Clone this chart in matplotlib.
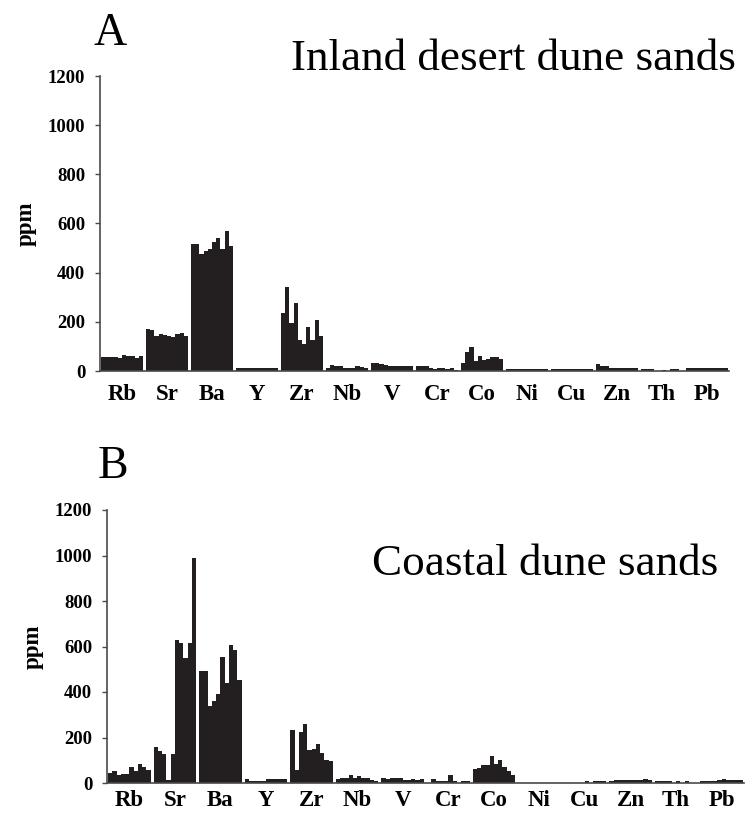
import numpy as np
import matplotlib
matplotlib.use('Agg')
import matplotlib.pyplot as plt

# elementos y muestras (10 muestras por elemento)
elements = ['Rb', 'Sr', 'Ba', 'Y', 'Zr', 'Nb', 'V', 'Cr', 'Co', 'Ni', 'Cu', 'Zn', 'Th', 'Pb']
yticks = [0, 200, 400, 600, 800, 1000, 1200]

# A: dunas de desierto interior (ppm)
inland_Rb = [58, 58, 56, 55, 53, 64, 60, 60, 52, 63]
inland_Sr = [172, 166, 142, 150, 146, 144, 140, 150, 153, 144]
inland_Ba = [518, 516, 475, 488, 496, 524, 541, 498, 568, 510]
inland_Y = [14, 14, 14, 14, 14, 14, 14, 14, 14, 14]
inland_Zr = [236, 342, 196, 277, 126, 108, 177, 126, 207, 142]
inland_Nb = [13, 24, 20, 20, 14, 14, 14, 20, 17, 13]
inland_V = [34, 33, 27, 24, 20, 20, 20, 20, 20, 20]
inland_Cr = [20, 20, 20, 11, 7, 13, 13, 7, 13, 4]
inland_Co = [31, 78, 96, 42, 62, 45, 47, 55, 57, 47]
inland_Ni = [7, 7, 7, 7, 7, 7, 7, 7, 7, 7]
inland_Cu = [7, 7, 7, 7, 7, 7, 7, 7, 7, 7]
inland_Zn = [27, 20, 20, 14, 14, 14, 14, 14, 14, 14]
inland_Th = [7, 7, 7, 0, 0, 5, 0, 7, 7, 0]
inland_Pb = [12, 13, 13, 13, 13, 13, 13, 13, 13, 12]

# B: dunas costeras (ppm)
coastal_Rb = [45, 52, 33, 40, 41, 72, 52, 85, 72, 58]
coastal_Sr = [158, 140, 127, 15, 127, 630, 617, 551, 617, 990]
coastal_Ba = [492, 492, 337, 360, 392, 556, 439, 607, 583, 452]
coastal_Y = [17, 10, 10, 10, 10, 17, 17, 17, 17, 17]
coastal_Zr = [235, 55, 225, 260, 145, 150, 172, 130, 100, 95]
coastal_Nb = [17, 22, 22, 37, 22, 29, 22, 22, 12, 8]
coastal_V = [22, 17, 22, 22, 22, 12, 12, 17, 12, 17]
coastal_Cr = [0, 17, 10, 10, 10, 37, 10, 0, 10, 10]
coastal_Co = [63, 66, 80, 80, 120, 85, 100, 70, 52, 35]
coastal_Ni = [0, 0, 0, 0, 0, 0, 0, 0, 0, 0]
coastal_Cu = [0, 0, 0, 0, 0, 7, 0, 7, 7, 7]
coastal_Zn = [10, 12, 12, 12, 15, 15, 15, 15, 19, 12]
coastal_Th = [10, 10, 10, 10, 0, 10, 0, 8, 0, 0]
coastal_Pb = [10, 10, 10, 10, 12, 18, 15, 15, 15, 15]

inland = np.array([inland_Rb, inland_Sr, inland_Ba, inland_Y, inland_Zr, inland_Nb, inland_V,
                   inland_Cr, inland_Co, inland_Ni, inland_Cu, inland_Zn, inland_Th, inland_Pb])
coastal = np.array([coastal_Rb, coastal_Sr, coastal_Ba, coastal_Y, coastal_Zr, coastal_Nb, coastal_V,
                    coastal_Cr, coastal_Co, coastal_Ni, coastal_Cu, coastal_Zn, coastal_Th, coastal_Pb])

W, H = 756, 813
fig = plt.figure(figsize=(W / 100, H / 100), dpi=100)
serif = 'Liberation Serif'
bar_color = '#231f20'
spine_color = '#4a4a4a'


def panel(rect, data, xpad):
    ax = fig.add_axes(rect)
    x = np.arange(len(elements))
    n = data.shape[1]
    w = 0.935 / n
    for j in range(n):
        ax.bar(x + (j - (n - 1) / 2) * w, data[:, j], width=w, color=bar_color, linewidth=0)
    ax.set_xlim(-0.49, 13.49)
    ax.set_ylim(0, 1200)
    ax.set_yticks(yticks)
    ax.set_yticklabels([str(t) for t in yticks], fontfamily=serif, fontweight='bold', fontsize=13.5)
    ax.set_xticks(x)
    ax.set_xticklabels(elements, fontfamily=serif, fontweight='bold', fontsize=16.5)
    ax.tick_params(axis='x', length=0, pad=xpad)
    ax.tick_params(axis='y', length=3.6, width=1, color=spine_color, pad=7)
    for s in ['top', 'right']:
        ax.spines[s].set_visible(False)
    for s in ['left', 'bottom']:
        ax.spines[s].set_color(spine_color)
        ax.spines[s].set_linewidth(1.2)
    ax.set_ylabel('ppm', fontfamily=serif, fontweight='bold', fontsize=16.5, labelpad=8)
    return ax


axA = panel([100 / W, 1 - 371 / H, 629 / W, 295 / H], inland, 9)
axB = panel([107 / W, 1 - 783 / H, 637 / W, 273 / H], coastal, 5)

fig.text(93 / W, 1 - 45 / H, 'A', fontfamily=serif, fontsize=33)
fig.text(98 / W, 1 - 478 / H, 'B', fontfamily=serif, fontsize=33)
fig.text(736 / W, 1 - 70 / H, 'Inland desert dune sands', fontfamily=serif, fontsize=32.5, ha='right')
fig.text(718 / W, 1 - 575 / H, 'Coastal dune sands', fontfamily=serif, fontsize=32.5, ha='right')

fig.savefig('out.png', dpi=100)
